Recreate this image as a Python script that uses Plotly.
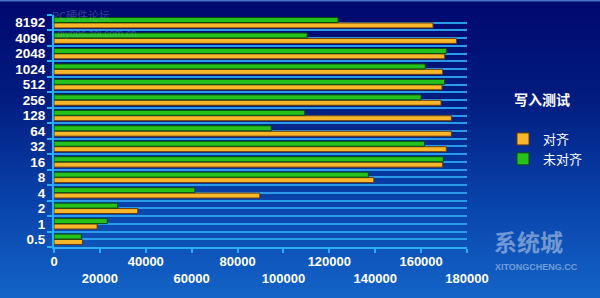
import plotly.graph_objects as go

categories = ["0.5", "1", "2", "4", "8", "16", "32", "64", "128", "256", "512", "1024", "2048", "4096", "8192"]
aligned = [12400, 18800, 36500, 89700, 139400, 169400, 171000, 173200, 173200, 168700, 169100, 169400, 170300, 175400, 165200]
unaligned = [11900, 23200, 27800, 61400, 137000, 169700, 161500, 94700, 109300, 160000, 170200, 161800, 171000, 110300, 123800]
x_ticks = [0, 20000, 40000, 60000, 80000, 100000, 120000, 140000, 160000, 180000]

W, H = 600, 298
ML, MR, MT, MB = 54, 133, 15, 51
PW, PH = W - ML - MR, H - MT - MB

def px2x(px):
    return (px - ML) / PW

def py2y(py):
    return (H - MB - py) / PH

idx = list(range(len(categories)))

fig = go.Figure()
fig.add_trace(go.Bar(
    y=idx, x=aligned, orientation="h", name="对齐",
    marker=dict(color="#F8B62A", line=dict(color="#6a3a08", width=1)),
))
fig.add_trace(go.Bar(
    y=idx, x=unaligned, orientation="h", name="未对齐",
    marker=dict(color="#26C21C", line=dict(color="#0b4a10", width=1)),
))

# gradient background strips
stops = [(0, (0, 8, 110)), (100, (2, 28, 128)), (200, (8, 66, 170)), (298, (20, 100, 200))]
def col(py):
    for (a, ca), (b, cb) in zip(stops, stops[1:]):
        if a <= py <= b:
            t = (py - a) / (b - a)
            return "rgb(%d,%d,%d)" % tuple(round(ca[i] + (cb[i] - ca[i]) * t) for i in range(3))
    return "rgb(%d,%d,%d)" % stops[-1][1]

shapes = []
step = 2
for py in range(0, H, step):
    shapes.append(dict(type="rect", xref="paper", yref="paper",
                       x0=px2x(-2), x1=px2x(W + 2), y0=py2y(py + step + 0.5), y1=py2y(py),
                       fillcolor=col(py + step / 2), line=dict(width=0), layer="below"))
# top highlight line
shapes.append(dict(type="line", xref="paper", yref="paper", x0=px2x(0), x1=px2x(W),
                   y0=py2y(0.5), y1=py2y(0.5), line=dict(color="#4a70c8", width=2), layer="below"))

ticktext = [("<br>" + f"{v}") if (i % 2 == 1) else f"{v}" for i, v in enumerate(x_ticks)]

grid_col = "#2a9be8"
fig.update_layout(
    width=W, height=H,
    margin=dict(l=ML, r=MR, t=MT, b=MB, autoexpand=False),
    paper_bgcolor="#0a2a90",
    plot_bgcolor="rgba(0,0,0,0)",
    barmode="group", bargap=0.3, bargroupgap=0.08,
    shapes=shapes,
    showlegend=True,
    legend=dict(x=px2x(503), y=py2y(149), xanchor="left", yanchor="middle",
                font=dict(family="Noto Sans CJK SC", size=13, color="white"),
                bgcolor="rgba(0,0,0,0)", itemwidth=30, tracegroupgap=0),
    xaxis=dict(range=[0, 180000], tickvals=x_ticks, ticktext=ticktext, tickangle=0, automargin=False,
               showgrid=False, zeroline=False, showline=True, linecolor="#2ab0f0", linewidth=2,
               ticks="outside", ticklen=4, tickcolor="#2ab0f0", tickwidth=2, ticklabelstandoff=-3,
               tickfont=dict(family="Liberation Sans, Arial", size=13, color="white", weight="bold")),
    yaxis=dict(range=[-0.5, 14.5], tickvals=idx, ticktext=categories, automargin=False,
               showgrid=True, gridcolor=grid_col, gridwidth=1.5, zeroline=False,
               showline=True, linecolor="#2ab0f0", linewidth=2, ticks="", ticklabelstandoff=4,
               tickfont=dict(family="Liberation Sans, Arial", size=13.5, color="white", weight="bold"),
               minor=dict(tickmode="linear", tick0=-0.5, dtick=1, showgrid=True, gridcolor=grid_col,
                          gridwidth=1.5, ticks="outside", ticklen=5, tickcolor="#2ab0f0", tickwidth=2)),
    annotations=[
        dict(text="<b>写入测试</b>", xref="paper", yref="paper", x=px2x(542), y=py2y(99),
             xanchor="center", yanchor="middle",
             showarrow=False, font=dict(family="Noto Sans CJK SC", size=14, color="white")),
        dict(text="PC硬件论坛", xref="paper", yref="paper", x=px2x(50), y=py2y(15), xanchor="left",
             yanchor="middle",
             showarrow=False, font=dict(family="Noto Sans CJK SC", size=11, color="rgba(150,170,220,0.35)")),
        dict(text="diybbs.zol.com.cn", xref="paper", yref="paper", x=px2x(55), y=py2y(34), xanchor="left",
             yanchor="middle",
             showarrow=False, font=dict(family="Liberation Sans", size=10, color="rgba(150,170,220,0.35)")),
        dict(text="<b>系统城</b>", xref="paper", yref="paper", x=px2x(492), y=py2y(241), xanchor="left",
             yanchor="middle",
             showarrow=False, font=dict(family="Noto Sans CJK SC", size=23, color="rgba(215,225,240,0.5)")),
        dict(text="<b>XITONGCHENG.CC</b>", xref="paper", yref="paper", x=px2x(493), y=py2y(267),
             xanchor="left", yanchor="middle",
             showarrow=False, font=dict(family="Liberation Sans", size=9, color="rgba(215,225,240,0.5)")),
    ],
)

fig.write_html("out.html")
